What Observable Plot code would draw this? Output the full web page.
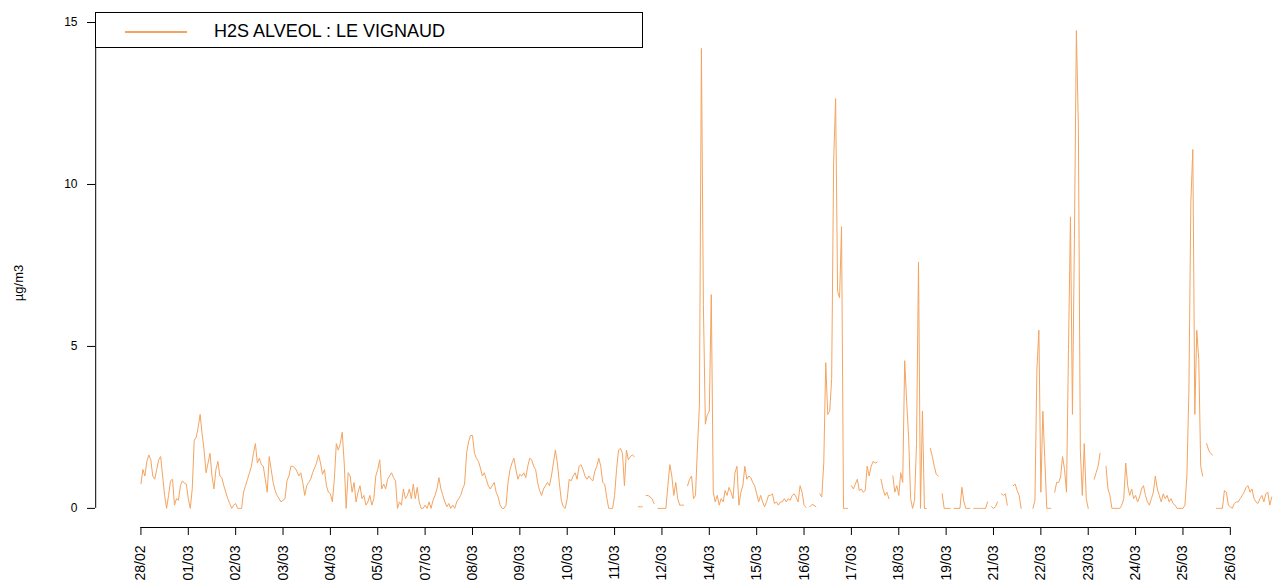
<!DOCTYPE html>
<html>
<head>
<meta charset="utf-8">
<script src="https://cdn.jsdelivr.net/npm/d3@7"></script>
<script src="https://cdn.jsdelivr.net/npm/@observablehq/plot@0.6"></script>
<style>
  body { margin: 0; background: #fff; font-family: "Liberation Sans", Arial, sans-serif; }
  #wrap { position: relative; width: 1273px; height: 587px; overflow: hidden; }
  #legend { position: absolute; left: 95px; top: 12px; width: 548px; height: 36px; border: 1px solid #000; box-sizing: border-box; background: #fff; }
  #legend .sw { position: absolute; left: 29px; top: 18px; width: 62px; height: 2px; }
  #legend .tx { position: absolute; left: 118px; top: 8px; font-size: 18px; line-height: 20px; color: #000; white-space: nowrap; }
  #ylab { position: absolute; left: 18px; top: 283px; transform: translate(-50%, -50%) rotate(-90deg); font-size: 13px; color: #000; white-space: nowrap; }
</style>
</head>
<body>
<div id="wrap">
  <div id="chart"></div>
  <div id="legend"><div class="sw"></div><div class="tx"></div></div>
  <div id="ylab"></div>
</div>
<script>
// Series name, unit, colour
const seriesName = "H2S ALVEOL : LE VIGNAUD";
const unitLabel = "µg/m3";
const lineColor = "#F4A460";

// Tick labels (one every 24 samples)
const tickLabels = ["28/02","01/03","02/03","03/03","04/03","05/03","07/03","08/03","09/03","10/03","11/03","12/03",
                    "14/03","15/03","16/03","17/03","18/03","19/03","21/03","22/03","23/03","24/03","25/03","26/03"];
const samplesPerTick = 24;
const yTicks = [0, 5, 10, 15];

// Hourly values (µg/m3), one array per tick interval; null = missing
const v2802 = [0.76,1.2,1.0,1.45,1.65,1.5,1.0,0.9,1.2,1.5,1.6,1.0,0.4,0.0,0.4,0.85,0.9,0.1,0.3,0.25,0.7,0.85,0.78,0.75];
const v0103 = [0.3,0.0,0.6,2.1,2.2,2.5,2.9,2.3,1.8,1.1,1.4,1.7,1.0,0.6,1.2,1.45,1.0,0.95,0.7,0.5,0.3,0.15,0.0,0.1];
const v0203 = [0.15,0.0,0.0,0.0,0.5,0.7,0.9,1.1,1.3,1.7,2.0,1.4,1.55,1.35,1.3,0.9,0.5,1.6,1.2,0.8,0.55,0.4,0.3,0.2];
const v0303 = [0.25,0.3,0.85,1.0,1.3,1.3,1.25,1.15,1.0,1.1,0.8,0.4,0.7,0.8,0.9,1.1,1.25,1.4,1.65,1.4,1.05,1.2,0.7,0.5];
const v0403 = [0.45,0.2,0.9,2.0,1.8,2.0,2.35,1.4,0.0,1.1,1.0,0.5,0.8,0.2,0.5,0.7,0.3,0.4,0.1,0.2,0.4,0.1,0.3,1.0];
const v0503 = [1.2,1.5,0.6,0.75,0.6,0.9,1.0,1.1,0.95,0.85,0.0,0.2,0.1,0.6,0.3,0.4,0.6,0.3,0.75,0.3,0.65,0.2,0.0,0.0];
const v0703 = [0.1,0.0,0.2,0.0,0.25,0.4,0.6,0.95,0.6,0.4,0.2,0.05,0.15,0.0,0.1,0.0,0.2,0.3,0.4,0.6,0.75,1.7,2.05,2.25];
const v0803 = [2.25,1.7,1.55,1.45,1.25,1.0,1.1,0.9,0.7,0.6,0.7,0.8,0.5,0.35,0.1,0.0,0.0,0.1,0.8,1.2,1.4,1.55,1.2,0.9];
const v0903 = [1.05,1.0,1.1,0.95,1.3,1.55,1.5,1.3,1.2,0.8,0.55,0.4,0.6,0.7,0.8,0.7,1.0,1.4,1.8,1.4,0.8,0.25,0.05,0.0];
const v1003 = [0.3,0.9,0.85,1.0,1.1,0.9,1.3,1.35,1.2,1.0,0.9,1.0,0.9,0.85,1.15,1.3,1.55,1.3,0.8,0.75,0.35,0.0,0.0,0.0];
const v1103 = [0.4,1.2,1.8,1.85,1.7,0.7,1.8,1.5,1.6,1.65,1.6,null,0.05,0.05,0.05,null,0.4,0.4,0.35,0.3,0.15,null,0,0];
const v1203 = [0,0,0,0.7,1.35,1.0,0.4,0.8,0.3,0.1,0.1,0.1,null,0.7,0.9,1.0,0.3,0.4,1.9,3.2,14.2,6.3,2.6,2.9];
const v1403 = [3.0,6.6,0.5,0.2,0.4,0.1,0.3,0.2,0.55,0.4,0.65,0.5,0.3,1.1,1.3,0.1,0.5,0.7,1.3,0.9,1.0,0.95,0.8,0.7];
const v1503 = [0.45,0.2,0.4,0.2,0.05,0.2,0.4,0.4,0.45,0.15,0.2,0.1,0.2,0.2,0.3,0.2,0.3,0.25,0.4,0.45,0.35,0.2,0.7,0.5];
const v1603 = [0.1,0.03,null,0.05,0.12,0.1,0.05,null,0.45,0.35,1.4,4.5,2.9,3.0,4.0,10.7,12.65,6.7,6.5,8.7,0.0,0.0,0.0,null];
const v1703 = [0.7,0.6,0.75,0.9,0.55,0.6,0.5,0.55,1.3,1.0,1.3,1.45,1.4,1.43,null,0.9,0.6,0.4,0.5,0.3,null,1.0,0.5,0.7];
const v1803 = [0.4,1.1,0.8,4.56,3.3,2.2,0.3,0.0,0.25,2.0,7.6,0.0,3.0,0.0,0.0,null,1.85,1.6,1.3,1.05,1.0,null,0.45,0.0];
const v1903 = [0,0,0,null,0,0,0,0,0.65,0.2,0,0,0,null,0,0,0,0,0,0,0,0.2,null,0.05];
const v2103 = [0.0,0.05,0.2,null,0.45,0.4,0.45,0.1,null,null,0.7,0.75,0.55,0.4,0.0,null,null,null,null,null,0.0,0.25,4.3,5.5];
const v2203 = [0.5,3.0,1.5,0.0,0.0,0.0,null,0.5,0.8,0.8,0.97,1.6,1.2,0.5,4.9,9.0,2.9,8.3,14.75,11.8,1.8,0.4,2.0,0.3];
const v2303 = [0.0,null,null,0.9,1.1,1.3,1.7,null,null,1.3,0.6,0.4,0.0,0.0,0.0,0.0,0.0,0.1,0.3,1.4,0.7,0.4,0.6,0.3];
const v2403 = [0.4,0.2,0.35,0.6,0.7,0.4,0.2,0.1,0.3,0.5,1.0,0.6,0.4,0.2,0.45,0.3,0.4,0.2,0.3,0.15,0.1,0.0,0.0,0.0];
const v2503 = [0.0,0.1,1.0,3.6,9.45,11.08,2.9,5.5,4.6,1.3,1.0,null,2.0,1.8,1.7,1.65,null,0.0,0.0,0.0,0.0,0.55,0.5,0.1];
const v2603 = [0.05,0.0,0.15,0.2,0.2,0.3,0.4,0.5,0.65,0.7,0.5,0.6,0.3,0.2,0.15,0.3,0.4,0.2,0.45,0.5,0.1,0.35];

const values = [].concat(v2802,v0103,v0203,v0303,v0403,v0503,v0703,v0803,v0903,v1003,v1103,v1203,
                         v1403,v1503,v1603,v1703,v1803,v1903,v2103,v2203,v2303,v2403,v2503,v2603);

const data = values.map((v, i) => ({t: i, v: v == null ? NaN : v}));
const n = values.length;
const tickPos = tickLabels.map((_, k) => k * samplesPerTick);

// R-style 4% axis extension
const padX = 0.04 * (n - 1);
const xDomain = [-padX, n - 1 + padX];
const yMax = d3.max(values);
const padY = 0.04 * yMax;
const yDomain = [-padY, yMax + padY];

const chart = Plot.plot({
  width: 1273,
  height: 587,
  marginLeft: 95,
  marginRight: 0,
  marginTop: 11,
  marginBottom: 60,
  style: {fontFamily: "'Liberation Sans', Arial, sans-serif", fontSize: "12px", color: "#000", background: "#fff"},
  x: {domain: xDomain, range: [95.2, 1316.5]},
  y: {domain: yDomain, range: [527, 11]},
  marks: [
    Plot.lineY(data, {x: "t", y: "v", stroke: lineColor, strokeWidth: 1}),
    Plot.ruleY([yDomain[0]], {x1: tickPos[0], x2: tickPos[tickPos.length - 1], stroke: "#000"}),
    Plot.ruleX([xDomain[0]], {y1: yTicks[0], y2: yTicks[yTicks.length - 1], stroke: "#000"}),
    Plot.axisX({anchor: "bottom", ticks: tickPos, tickFormat: d => tickLabels[Math.round(d / samplesPerTick)],
                tickSize: 8, tickPadding: 10, tickRotate: -90, fontSize: 14, label: null, stroke: "#000"}),
    Plot.axisY({anchor: "left", ticks: yTicks, tickSize: 8, tickPadding: 10, fontSize: 12, label: null, stroke: "#000"})
  ]
});
document.getElementById("chart").appendChild(chart);
document.querySelector("#legend .sw").style.background = lineColor;
document.querySelector("#legend .tx").textContent = seriesName;
document.getElementById("ylab").textContent = unitLabel;
</script>
</body>
</html>
